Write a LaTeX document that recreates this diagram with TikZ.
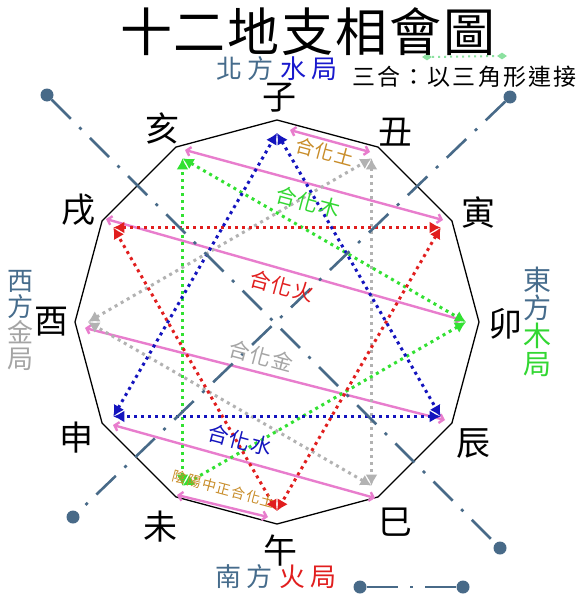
\documentclass[tikz,border=0pt]{standalone}
\usepackage{fontspec}
\newfontfamily\cjk{Noto Sans CJK TC}
\usetikzlibrary{arrows.meta,shapes.geometric}
\newcommand\myfs[1]{\fontsize{#1}{#1}\selectfont}
\definecolor{steel}{RGB}{70,108,140}
\definecolor{dashc}{RGB}{72,106,136}
\definecolor{shuiblue}{RGB}{25,25,205}
\definecolor{triblue}{RGB}{20,20,190}
\definecolor{trired}{RGB}{225,30,30}
\definecolor{trigreen}{RGB}{50,225,50}
\definecolor{trigray}{RGB}{178,178,178}
\definecolor{pinkl}{RGB}{232,125,205}
\definecolor{earth}{RGB}{200,140,40}
\definecolor{legg}{RGB}{140,225,160}
\definecolor{jingray}{RGB}{165,165,165}
\definecolor{mugreen}{RGB}{50,215,50}
\begin{document}
\begin{tikzpicture}[x=1pt,y=-1pt,
  branch/.style={font=\cjk\myfs{34}, inner sep=0pt},
  hehua/.style={font=\cjk\myfs{21}, inner sep=0pt, rotate=-15},
  side/.style={font=\cjk\myfs{26}, inner sep=0pt},
  tri/.style={line width=3pt, dash pattern=on 3pt off 4pt,
    {Latex[length=11pt,width=12pt]}-{Latex[length=11pt,width=12pt]}},
  liuhe/.style={draw=pinkl, line width=2.4pt,
    {Straight Barb[length=4pt,width=9pt]}-{Straight Barb[length=4pt,width=9pt]}},
  dashdot/.style={draw=dashc, line width=2.6pt, dash pattern=on 27pt off 12pt on 3pt off 12pt},
  endball/.style={circle, fill=dashc, minimum size=13pt, inner sep=0pt},
  legline/.style={draw=legg, line width=2pt, dash pattern=on 2pt off 4pt},
  legdia/.style={diamond, fill=legg, minimum width=10pt, minimum height=7pt, inner sep=0pt}]
\fill[white] (0,0) rectangle (578,594);
\useasboundingbox (0,0) rectangle (578,594);

% geometry
\begin{scope}[shift={(277,322)}]
  \foreach \k in {0,...,11} {
    \coordinate (v\k) at ({-90+30*\k}:202);
    \coordinate (t\k) at ({-90+30*\k}:189);
  }
\end{scope}

% dodecagon
\draw[line width=1.3pt, line join=miter] (v0) -- (v1) -- (v2) -- (v3) -- (v4) -- (v5) -- (v6)
  -- (v7) -- (v8) -- (v9) -- (v10) -- (v11) -- cycle;

% six harmonies (pink)
\coordinate (p1a) at (290,130);  \coordinate (p1b) at (370,152);
\coordinate (p2a) at (185,150);  \coordinate (p2b) at (443,220);
\coordinate (p3a) at (106,219);  \coordinate (p3b) at (462,320);
\coordinate (p4a) at (85,328);   \coordinate (p4b) at (445,420);
\coordinate (p5a) at (113,425);  \coordinate (p5b) at (375,498);
\coordinate (p6a) at (177,495);  \coordinate (p6b) at (268,517);
\foreach \i in {1,...,6} \draw[liuhe] (p\i a) -- (p\i b);

% three harmonies (triangles)
\draw[tri, trigray] (t1) -- (t5);
\draw[tri, trigray] (t5) -- (t9);
\draw[tri, trigray] (t9) -- (t1);
\draw[tri, trigreen] (t3) -- (t7);
\draw[tri, trigreen] (t7) -- (t11);
\draw[tri, trigreen] (t11) -- (t3);
\draw[tri, trired] (t2) -- (t6);
\draw[tri, trired] (t6) -- (t10);
\draw[tri, trired] (t10) -- (t2);
\draw[tri, triblue] (t0) -- (t4);
\draw[tri, triblue] (t4) -- (t8);
\draw[tri, triblue] (t8) -- (t0);

% dash-dot axes
\node[endball] (ea1) at (47,95) {};
\node[endball] (ea2) at (500,548) {};
\node[endball] (eb1) at (510,97) {};
\node[endball] (eb2) at (73,517) {};
\node[endball] (el1) at (360,587) {};
\node[endball] (el2) at (463,587) {};
\draw[dashdot] (ea1) -- (ea2);
\draw[dashdot] (eb1) -- (eb2);
\draw[draw=dashc, line width=2.6pt, dash pattern=on 31.5pt off 12pt on 3pt off 12pt] (el1) -- (el2);

% legend for triangles
\node[legdia] (ld1) at (427,57) {};
\node[legdia] (ld2) at (502,56) {};
\draw[legline] (ld1) -- (ld2);

% title
\node[font=\cjk\myfs{52}, inner sep=0pt] (title) at (308,32)
  {十\kern2pt 二\kern2pt 地\kern2pt 支\kern2pt 相\kern2pt 會\kern2pt 圖};
\node[font=\cjk\myfs{23}, inner sep=0pt] (legtext) at (464.5,77)
  {三\kern2.2pt 合\kern2.2pt ：\kern2.2pt 以\kern2.2pt 三\kern2.2pt 角\kern2.2pt 形\kern2.2pt 連\kern2.2pt 接};

% direction labels
\node[side] (north) at (277,69)
  {\textcolor{steel}{北\kern6pt 方}\kern6pt \textcolor{shuiblue}{水\kern6pt 局}};
\node[side] (south) at (276,577)
  {\textcolor{steel}{南\kern6pt 方}\kern6pt \textcolor{trired}{火\kern6pt 局}};
\node[side, align=center, font=\cjk\myfs{26}] (west) at (20,320.5)
  {\fontsize{26}{29}\selectfont\textcolor{steel}{西}\\\textcolor{steel}{方}\\\textcolor{jingray}{金}\\\textcolor{jingray}{局}};
\node[side, align=center, font=\cjk\myfs{28}] (east) at (537,322)
  {\fontsize{28}{33}\selectfont\textcolor{steel}{東}\\\textcolor{steel}{方}\\\textcolor{mugreen}{木}\\\textcolor{mugreen}{局}};

% branch labels
\node[branch] (zi)   at (279,98)  {子};
\node[branch] (chou) at (395,132) {丑};
\node[branch] (yin)  at (478,213) {寅};
\node[branch] (mao)  at (505,324) {卯};
\node[branch] (chen) at (473,444) {辰};
\node[branch] (si)   at (395,522) {巳};
\node[branch] (wu)   at (280,551) {午};
\node[branch] (wei)  at (160,527) {未};
\node[branch] (shen) at (76,438)  {申};
\node[branch] (you)  at (51,322)  {酉};
\node[branch] (xu)   at (78,210)  {戌};
\node[branch] (hai)  at (162,128) {亥};

% combination labels
\node[hehua, text=earth, font=\cjk\myfs{19}] (hh1) at (325,152) {合\kern1.5pt 化\kern1.5pt 土};
\node[hehua, text=mugreen] (hh2) at (308,202) {合\kern1.5pt 化\kern1.5pt 木};
\node[hehua, text=trired] (hh3) at (282,286) {合\kern1.5pt 化\kern1.5pt 火};
\node[hehua, text=jingray] (hh4) at (261,356) {合\kern1.5pt 化\kern1.5pt 金};
\node[hehua, text=triblue] (hh5) at (240,440) {合\kern1.5pt 化\kern1.5pt 水};
\node[hehua, text=earth, font=\cjk\myfs{14}] (hh6) at (224,489)
  {陰\kern1.2pt 陽\kern1.2pt 中\kern1.2pt 正\kern1.2pt 合\kern1.2pt 化\kern1.2pt 土};
\end{tikzpicture}
\end{document}
